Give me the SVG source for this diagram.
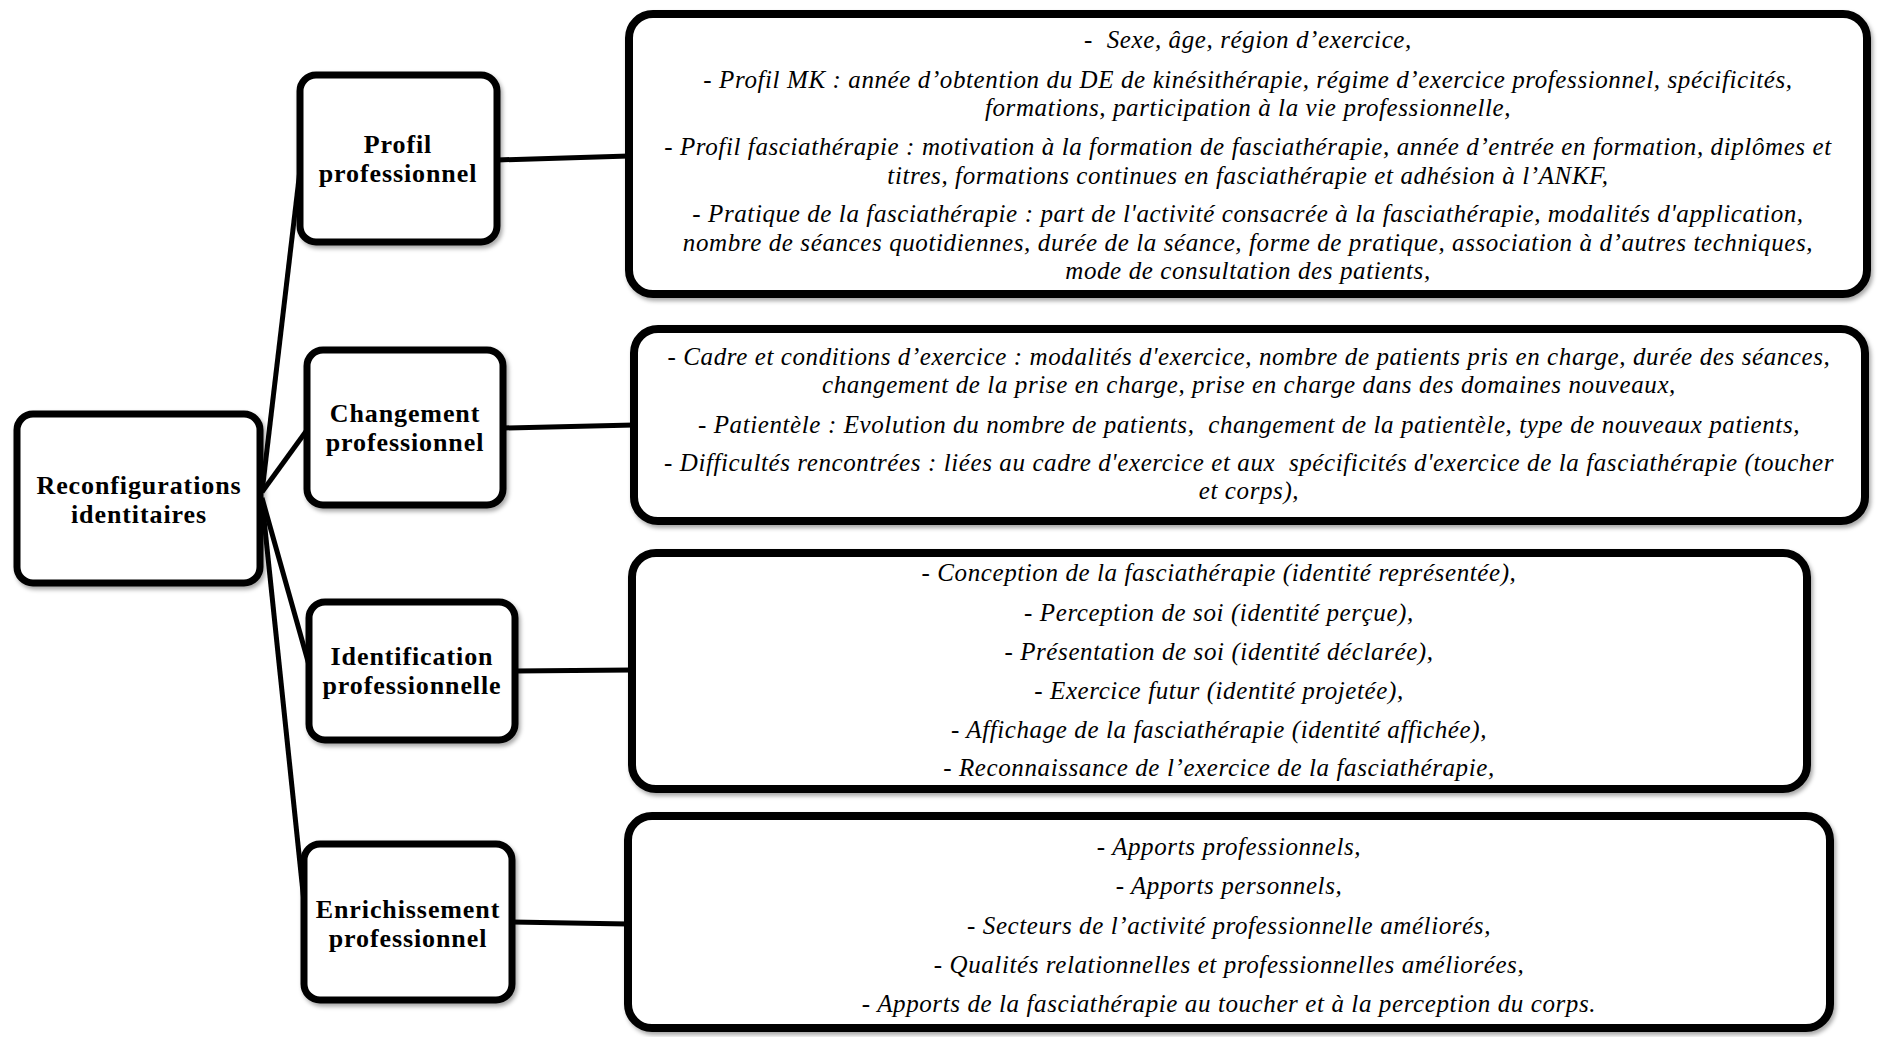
<svg xmlns="http://www.w3.org/2000/svg" width="1878" height="1037" viewBox="0 0 1878 1037">
<style>
  .box { fill: #ffffff; stroke: #000000; stroke-width: 7; filter: url(#sh); }
  .rbox { fill: #ffffff; stroke: #000000; stroke-width: 8; filter: url(#sh); }
  .lbl { font-family: "Liberation Serif", "Times New Roman", serif; font-weight: bold; font-size: 26px; letter-spacing: 0.9px; fill: #000; text-anchor: middle; }
  .itm { font-family: "Liberation Serif", "Times New Roman", serif; font-style: italic; font-size: 25px; letter-spacing: 0.6px; fill: #000; text-anchor: middle; white-space: pre; }
  .con { stroke: #000000; stroke-width: 5; fill: none; }
</style>
<defs>
  <filter id="sh" x="-5%" y="-5%" width="112%" height="115%">
    <feDropShadow dx="2" dy="3" stdDeviation="2" flood-color="#000" flood-opacity="0.35"/>
  </filter>
</defs>
<rect width="1878" height="1037" fill="#ffffff"/>
<g id="connectors">
  <line class="con" x1="262" y1="492" x2="300" y2="170"/>
  <line class="con" x1="262" y1="492" x2="307" y2="430"/>
  <line class="con" x1="262" y1="498" x2="309" y2="665"/>
  <line class="con" x1="262" y1="500" x2="304" y2="902"/>
  <line class="con" x1="497" y1="160" x2="629" y2="156"/>
  <line class="con" x1="503" y1="428" x2="634" y2="425"/>
  <line class="con" x1="515" y1="671" x2="632" y2="670"/>
  <line class="con" x1="512" y1="922" x2="628" y2="924"/>
</g>
<g id="reconfigurations">
  <rect class="box" x="17" y="414" width="243" height="169" rx="16"/>
  <text class="lbl" x="139" y="493.5">Reconfigurations</text>
  <text class="lbl" x="139" y="522.5">identitaires</text>
</g>
<g id="profil">
  <rect class="box" x="300" y="75" width="197" height="167" rx="16"/>
  <text class="lbl" x="398" y="153">Profil</text>
  <text class="lbl" x="398" y="182">professionnel</text>
</g>
<g id="changement">
  <rect class="box" x="307" y="350" width="196" height="155" rx="16"/>
  <text class="lbl" x="405" y="421.5">Changement</text>
  <text class="lbl" x="405" y="450.5">professionnel</text>
</g>
<g id="identification">
  <rect class="box" x="309" y="602" width="206" height="138" rx="16"/>
  <text class="lbl" x="412" y="665">Identification</text>
  <text class="lbl" x="412" y="694">professionnelle</text>
</g>
<g id="enrichissement">
  <rect class="box" x="304" y="844" width="208" height="156" rx="16"/>
  <text class="lbl" x="408" y="917.5">Enrichissement</text>
  <text class="lbl" x="408" y="946.5">professionnel</text>
</g>
<g id="details-profil">
  <rect class="rbox" x="629" y="14" width="1238" height="280" rx="24"/>
  <text class="itm" x="1248" y="48">-  Sexe, âge, région d’exercice,</text>
  <text class="itm" x="1248" y="88">- Profil MK : année d’obtention du DE de kinésithérapie, régime d’exercice professionnel, spécificités,</text>
  <text class="itm" x="1248" y="116">formations, participation à la vie professionnelle,</text>
  <text class="itm" x="1248" y="155">- Profil fasciathérapie : motivation à la formation de fasciathérapie, année d’entrée en formation, diplômes et</text>
  <text class="itm" x="1248" y="184">titres, formations continues en fasciathérapie et adhésion à l’ANKF,</text>
  <text class="itm" x="1248" y="222">- Pratique de la fasciathérapie : part de l'activité consacrée à la fasciathérapie, modalités d'application,</text>
  <text class="itm" x="1248" y="251">nombre de séances quotidiennes, durée de la séance, forme de pratique, association à d’autres techniques,</text>
  <text class="itm" x="1248" y="279">mode de consultation des patients,</text>
</g>
<g id="details-changement">
  <rect class="rbox" x="634" y="329" width="1231" height="192" rx="24"/>
  <text class="itm" x="1249" y="365">- Cadre et conditions d’exercice : modalités d'exercice, nombre de patients pris en charge, durée des séances,</text>
  <text class="itm" x="1249" y="393">changement de la prise en charge, prise en charge dans des domaines nouveaux,</text>
  <text class="itm" x="1249" y="433">- Patientèle : Evolution du nombre de patients,  changement de la patientèle, type de nouveaux patients,</text>
  <text class="itm" x="1249" y="471">- Difficultés rencontrées : liées au cadre d'exercice et aux  spécificités d'exercice de la fasciathérapie (toucher</text>
  <text class="itm" x="1249" y="499">et corps),</text>
</g>
<g id="details-identification">
  <rect class="rbox" x="632" y="553" width="1175" height="236" rx="24"/>
  <text class="itm" x="1219" y="581">- Conception de la fasciathérapie (identité représentée),</text>
  <text class="itm" x="1219" y="621">- Perception de soi (identité perçue),</text>
  <text class="itm" x="1219" y="660">- Présentation de soi (identité déclarée),</text>
  <text class="itm" x="1219" y="699">- Exercice futur (identité projetée),</text>
  <text class="itm" x="1219" y="738">- Affichage de la fasciathérapie (identité affichée),</text>
  <text class="itm" x="1219" y="776">- Reconnaissance de l’exercice de la fasciathérapie,</text>
</g>
<g id="details-enrichissement">
  <rect class="rbox" x="628" y="816" width="1202" height="212" rx="24"/>
  <text class="itm" x="1229" y="855">- Apports professionnels,</text>
  <text class="itm" x="1229" y="894">- Apports personnels,</text>
  <text class="itm" x="1229" y="934">- Secteurs de l’activité professionnelle améliorés,</text>
  <text class="itm" x="1229" y="973">- Qualités relationnelles et professionnelles améliorées,</text>
  <text class="itm" x="1229" y="1012">- Apports de la fasciathérapie au toucher et à la perception du corps.</text>
</g>
</svg>
